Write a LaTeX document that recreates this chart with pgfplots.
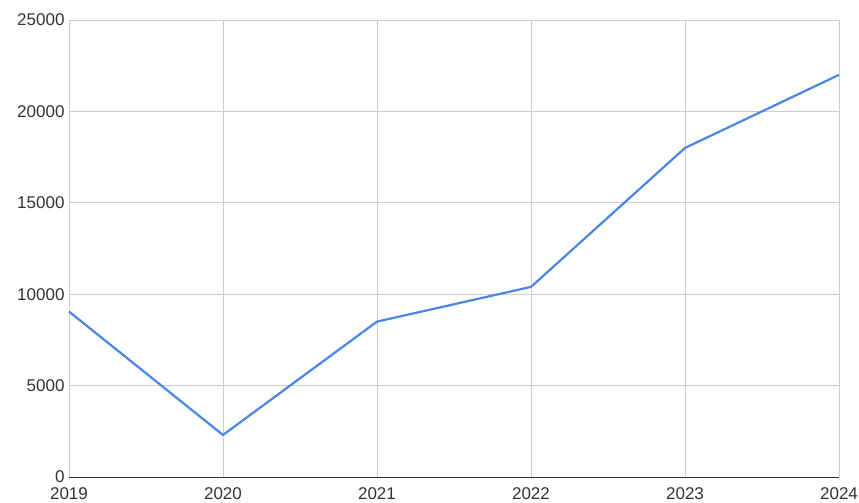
\documentclass[border=0pt]{standalone}
\usepackage{fontspec}
\setmainfont{Liberation Sans}
\usepackage{pgfplots}
\pgfplotsset{compat=1.18}
\definecolor{linblue}{HTML}{4A86E8}
\definecolor{gridgray}{HTML}{CCCCCC}
\definecolor{labgray}{HTML}{333333}
\begin{document}
\begin{tikzpicture}
\begin{axis}[
  name=ax,
  scale only axis,
  width=770pt, height=457pt,
  xmin=2019, xmax=2024, ymin=0, ymax=25000,
  xtick={2019,2020,2021,2022,2023,2024},
  ytick={0,5000,10000,15000,20000,25000},
  xticklabel style={/pgf/number format/1000 sep={}},
  yticklabel style={/pgf/number format/1000 sep={}},
  /pgf/number format/assume math mode=true,
  scaled y ticks=false,
  grid=major,
  major grid style={gridgray, line width=0.8pt},
  axis line style={draw=none},
  tick style={draw=none},
  ticklabel style={font=\fontsize{17}{20}\selectfont, text=labgray},
  xticklabel style={yshift=-7pt},
  yticklabel style={xshift=-1pt},
  clip=false,
]
\addplot[linblue, line width=2.2pt, line join=round] coordinates {
  (2019,9050) (2020,2300) (2021,8500) (2022,10400) (2023,18000) (2024,22000)
};
\draw[labgray, line width=1pt] (axis cs:2019,0) -- (axis cs:2024,0);
\end{axis}
\pgfresetboundingbox
\useasboundingbox ([shift={(-69pt,-26pt)}]ax.south west) rectangle ([shift={(20pt,20pt)}]ax.north east);
\end{tikzpicture}
\end{document}
